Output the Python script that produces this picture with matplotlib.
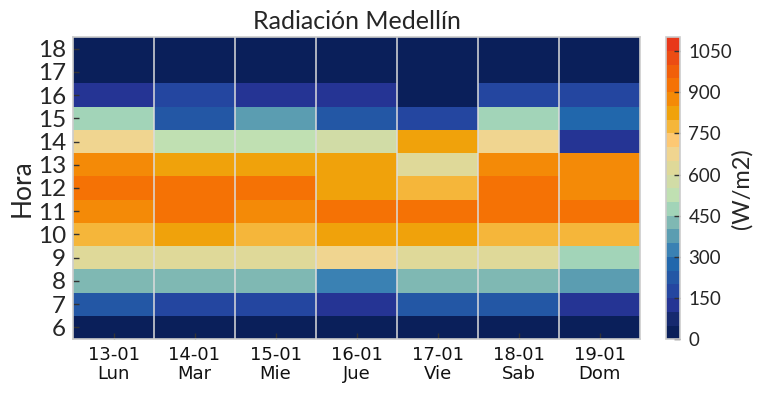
import numpy as np
import matplotlib
matplotlib.use("Agg")
import matplotlib.pyplot as plt
from matplotlib.colors import ListedColormap, BoundaryNorm

# ---- data ----
hours = [6, 7, 8, 9, 10, 11, 12, 13, 14, 15, 16, 17, 18]
dates = ["13-01", "14-01", "15-01", "16-01", "17-01", "18-01", "19-01"]
weekdays = ["Lun", "Mar", "Mie", "Jue", "Vie", "Sab", "Dom"]

lun = [25, 225, 425, 625, 775, 875, 925, 875, 675, 475, 125, 25, 25]
mar = [25, 175, 425, 625, 825, 925, 925, 825, 525, 225, 175, 25, 25]
mie = [25, 175, 425, 625, 775, 875, 925, 825, 525, 375, 125, 25, 25]
jue = [25, 125, 325, 675, 825, 925, 825, 825, 575, 225, 125, 25, 25]
vie = [25, 225, 425, 625, 825, 925, 775, 625, 825, 175, 25, 25, 25]
sab = [25, 225, 425, 625, 775, 925, 925, 875, 675, 475, 175, 25, 25]
dom = [25, 125, 375, 475, 775, 925, 875, 875, 125, 275, 175, 25, 25]

cbar_ticks = [0, 150, 300, 450, 600, 750, 900, 1050]

# ---- colormap ----
bin_colors = ['#0a1f5a', '#16296f', '#253494', '#2446a0', '#2357a5', '#2167ac',
              '#3a81b3', '#5b9db1', '#7fb8b3', '#a2d4b8', '#c0e0b2', '#d1dca6',
              '#dfd999', '#f0d590', '#fdc873', '#f5b63a', '#f0a20b', '#f48a07',
              '#f57205', '#f15f0a', '#ec4c13', '#e8381a']
bounds = np.arange(0, 1101, 50)
cmap = ListedColormap(bin_colors)
norm = BoundaryNorm(bounds, cmap.N)

Z = np.array([lun, mar, mie, jue, vie, sab, dom]).T

geo = ['Lato', 'DejaVu Sans']
txt = '#262626'

fig = plt.figure(figsize=(7.67, 3.95), dpi=100)
ax = fig.add_axes([73/767, 1-339/395, (640-73)/767, (339-37)/395])

x_edges = np.arange(len(dates) + 1) - 0.5
y_edges = np.arange(hours[0], hours[-1] + 2) - 0.5
mesh = ax.pcolormesh(x_edges, y_edges, Z, cmap=cmap, norm=norm)

for xb in x_edges[1:-1]:
    ax.axvline(xb, color='#dcdcdc', lw=1.1)

ax.set_xlim(x_edges[0], x_edges[-1])
ax.set_ylim(y_edges[0], y_edges[-1])
ax.set_xticks(range(len(dates)))
ax.set_xticklabels([f"{d}\n{w}" for d, w in zip(dates, weekdays)], linespacing=1.1)
for t in ax.get_xticklabels():
    t.set_fontfamily('DejaVu Sans')
    t.set_fontsize(13)
    t.set_color('#111111')
ax.set_yticks(hours)
ax.set_yticklabels([str(h) for h in hours], fontsize=17.5, color=txt, family=geo)
ax.tick_params(axis='both', direction='in', length=4, width=1, color='#333333')
ax.tick_params(axis='x', pad=5)
ax.tick_params(axis='y', pad=5)
for s in ax.spines.values():
    s.set_color('#cccccc')
    s.set_linewidth(1.2)

ax.set_ylabel('Hora', fontsize=19, color=txt, family=geo, labelpad=2)
ax.set_title('Radiación Medellín', fontsize=18, color=txt, family=geo, pad=6)

cax = fig.add_axes([665.7/767, 1-339.3/395, 14.3/767, (339.3-37.3)/395])
cb = fig.colorbar(mesh, cax=cax, ticks=cbar_ticks)
cax.minorticks_off()
cb.outline.set_edgecolor('#cccccc')
cb.outline.set_linewidth(1.2)
cax.tick_params(which='both', direction='in', length=4, width=1, color='#333333', pad=6)
cax.tick_params(which='minor', length=0)
for t in cax.get_yticklabels():
    t.set_fontsize(13.5)
    t.set_color(txt)
    t.set_family(geo)
cb.set_label('(W/m2)', fontsize=17, color=txt, family=geo, labelpad=-1)

fig.savefig('out.png', dpi=100)
